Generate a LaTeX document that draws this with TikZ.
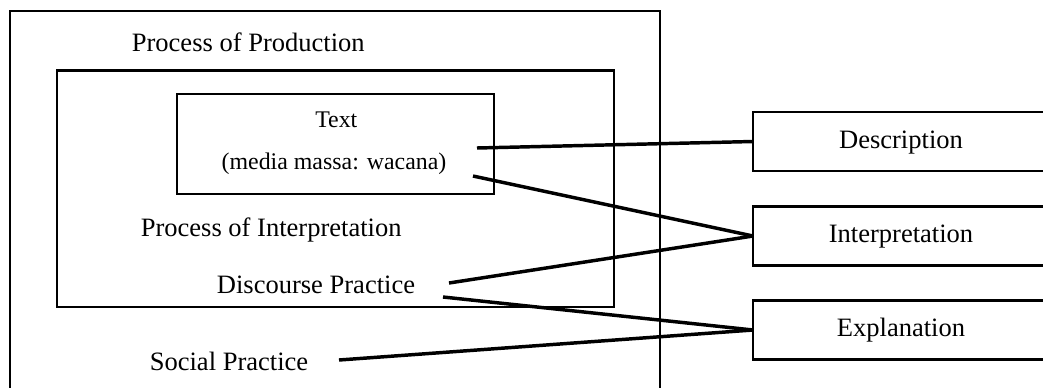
\documentclass[tikz,border=0pt]{standalone}
\usepackage{fontspec}
\setmainfont{Liberation Serif}
\begin{document}
\begin{tikzpicture}[x=0.75pt,y=-0.75pt,
  frame/.style={draw, line width=1.7pt, inner sep=0pt, outer sep=0pt, rectangle},
  bigtext/.style={font=\fontsize{19.9}{24}\selectfont, inner sep=0pt, anchor=base},
  smalltext/.style={font=\fontsize{17.9}{21}\selectfont, inner sep=0pt, anchor=base},
  link/.style={line width=2.6pt}]
\useasboundingbox (0,0) rectangle (1043,387);
\clip (0,0) rectangle (1043,387);
% boxes
\node[frame, minimum width=487.5pt, minimum height=306.75pt] (outer) at (335,215.5) {};
\node[frame, minimum width=417.75pt, minimum height=177.4pt] (middle) at (335.5,188.75) {};
\node[frame, minimum width=237.75pt, minimum height=75pt] (inner) at (335.5,144) {};
\node[frame, minimum width=222pt, minimum height=44.25pt] (desc) at (901,141.5) {};
\node[frame, minimum width=222pt, minimum height=44.25pt] (interpbox) at (901,236) {};
\node[frame, minimum width=222pt, minimum height=44.25pt] (expl) at (901,330) {};
% texts
\node[bigtext] (prod) at (248.3,51.7) {Process of Production};
\node[smalltext] (textlbl) at (336.3,127.7) {Text};
\node[smalltext] (media) at (334,169) {(media massa: wacana)};
\node[bigtext] (interp) at (271.2,236) {Process of Interpretation};
\node[bigtext] (disc) at (316,293.3) {Discourse Practice};
\node[bigtext] (social) at (229,370) {Social Practice};
\node[bigtext] (desclbl) at (901,148.3) {Description};
\node[bigtext] (interplbl) at (901,242.7) {Interpretation};
\node[bigtext] (expllbl) at (901,336.7) {Explanation};
% free ends of connectors
\coordinate (c1) at (477,148);
\coordinate (c2) at (473,176);
\coordinate (c3) at (449,283);
\coordinate (c4) at (443,297);
\coordinate (c5) at (339,360);
% connectors
\draw[link] (c1) -- (desc.west);
\draw[link] (c2) -- (interpbox.west);
\draw[link] (c3) -- (interpbox.west);
\draw[link] (c4) -- (expl.west);
\draw[link] (c5) -- (expl.west);
\end{tikzpicture}
\end{document}
